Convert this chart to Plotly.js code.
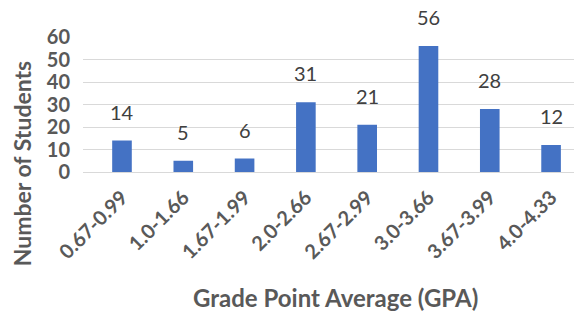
<!DOCTYPE html>
<html>
<head>
<meta charset="utf-8">
<script src="https://cdn.plot.ly/plotly-3.0.1.min.js"></script>
<style>html,body{margin:0;padding:0;background:#fff;}#chart{width:574px;height:312px;}</style>
</head>
<body>
<div id="chart"></div>
<script>
const categories = ["0.67-0.99","1.0-1.66","1.67-1.99","2.0-2.66","2.67-2.99","3.0-3.66","3.67-3.99","4.0-4.33"];
const students = [14, 5, 6, 31, 21, 56, 28, 12];
const yTicks = [0, 10, 20, 30, 40, 50, 60];
const xTitle = "Grade Point Average (GPA)";
const yTitle = "Number of Students";

const FONT = "Lato, 'Open Sans', sans-serif";
const trace = {
  type: "bar",
  x: categories,
  y: students,
  marker: {color: "#4472C4"},
  width: 0.32,
  cliponaxis: false,
  hoverinfo: "none"
};
const labelAnns = categories.map((c, i) => ({
  x: c, y: students[i], xref: "x", yref: "y",
  text: String(students[i]), showarrow: false,
  xanchor: "center", yanchor: "bottom", yshift: 15,
  font: {family: FONT, size: 20, color: "#404040"}
}));
const layout = {
  width: 574, height: 312,
  margin: {l: 83, r: 0, t: 37, b: 140},
  paper_bgcolor: "#fff", plot_bgcolor: "#fff",
  showlegend: false,
  xaxis: {
    type: "category",
    range: [-0.636, 7.374],
    tickangle: -45,
    tickfont: {family: FONT, size: 20, color: "#595959", weight: "bold"},
    showgrid: false, zeroline: false,
    showline: true, linecolor: "#d9d9d9", linewidth: 1,
    ticks: "", ticklen: 0, ticklabelstandoff: 5
  },
  yaxis: {
    range: [0, 60],
    tickvals: yTicks,
    ticktext: yTicks.map(String),
    tickfont: {family: FONT, size: 20, color: "#595959", weight: "bold"},
    showgrid: true, gridcolor: "#d9d9d9", gridwidth: 1,
    zeroline: false, showline: false,
    ticks: "", ticklabelstandoff: 12
  },
  annotations: labelAnns.concat([
    {text: xTitle, xref: "paper", yref: "paper", x: 0.515, y: -0.93, xanchor: "center", yanchor: "middle",
     showarrow: false, font: {family: FONT, size: 24, color: "#595959", weight: "bold"}},
    {text: yTitle, xref: "paper", yref: "paper", x: -0.124, y: 0.065, xanchor: "center", yanchor: "middle",
     textangle: -90, showarrow: false, font: {family: FONT, size: 23, color: "#595959", weight: "bold"}}
  ])
};
Plotly.newPlot("chart", [trace], layout, {displayModeBar: false, staticPlot: true});
</script>
</body>
</html>
